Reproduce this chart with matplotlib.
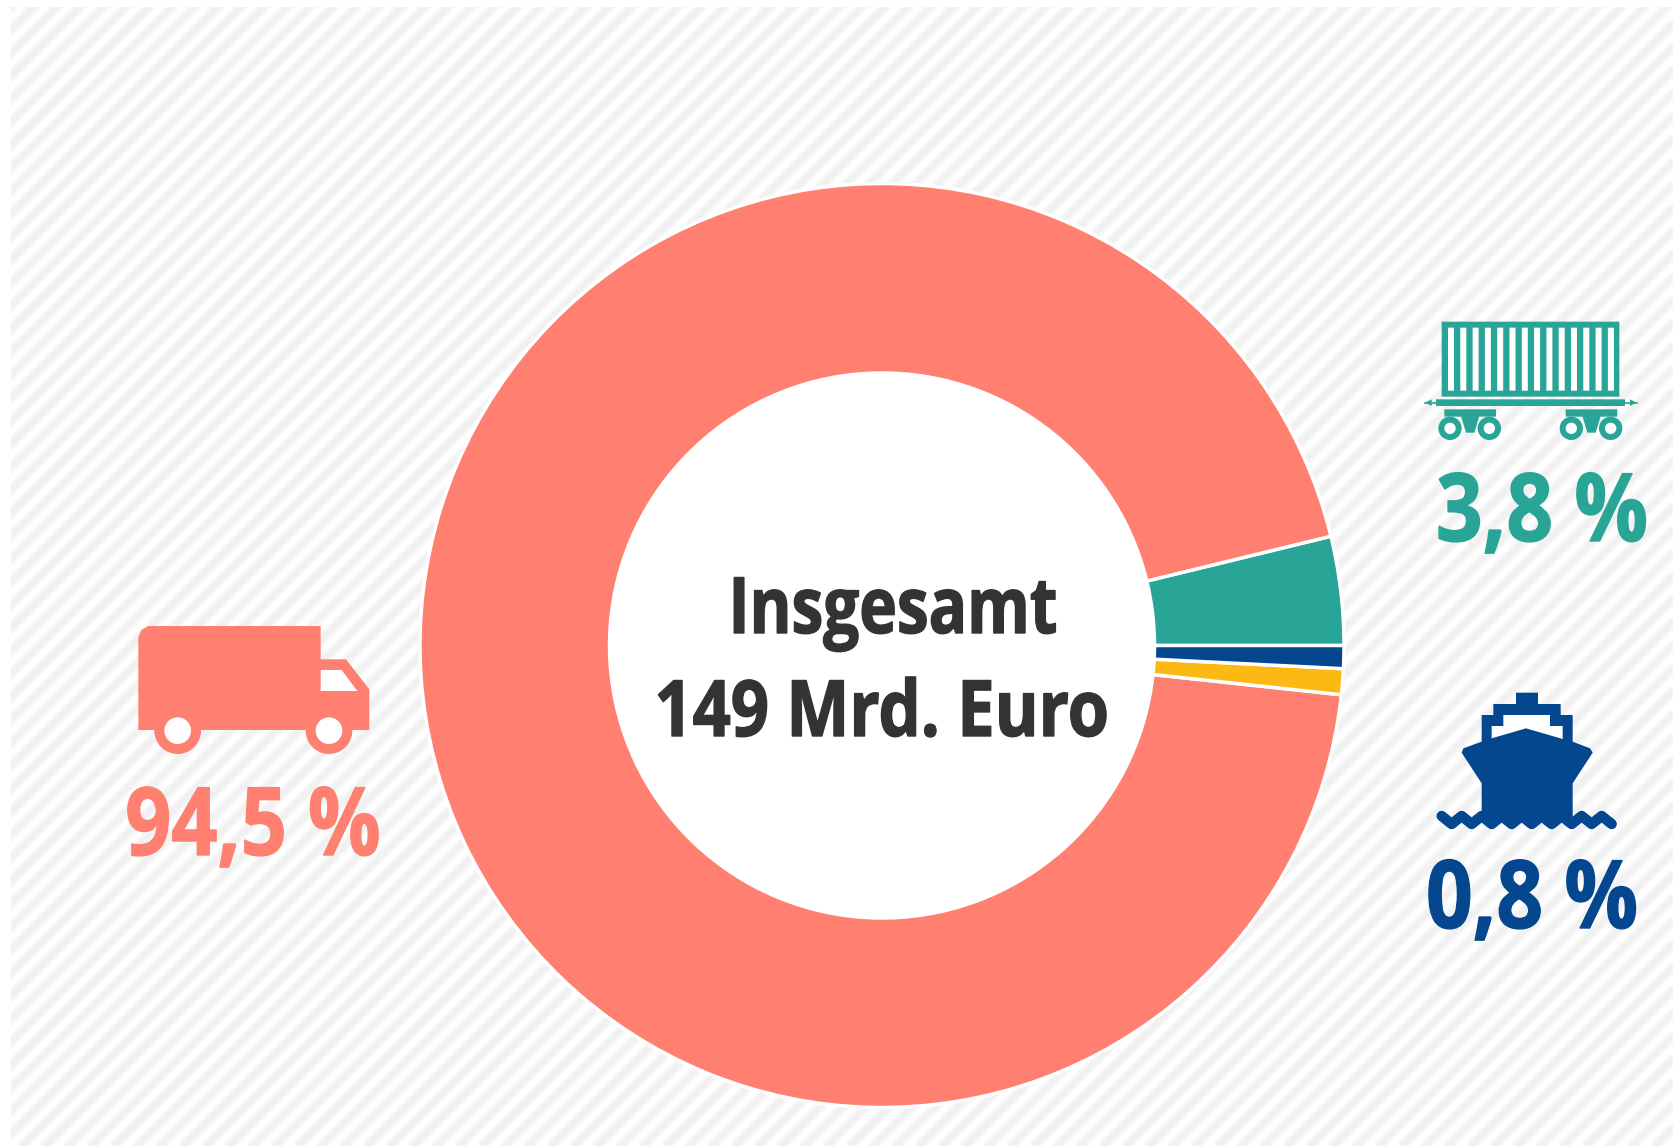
import matplotlib
matplotlib.use("Agg")
import matplotlib.pyplot as plt
import numpy as np
from matplotlib.patches import Rectangle, Polygon, Circle
from matplotlib.patheffects import AbstractPathEffect
from matplotlib.transforms import Affine2D

W, H = 1673, 1146
modes = ["Lkw", "Bahn", "Schiff", "Sonstige"]
shares = [94.5, 3.8, 0.8, 0.9]
colors = ["#FF8070", "#29A598", "#04478F", "#FDB913"]
share_labels = ["94,5 %", "3,8 %", "0,8 %"]
center_lines = ["Insgesamt", "149 Mrd. Euro"]

plt.rcParams["font.family"] = ["Open Sans", "DejaVu Sans"]
plt.rcParams["font.weight"] = "bold"


class Condense(AbstractPathEffect):
    """Narrow the glyphs around the anchor and thicken them a little (condensed bold look)."""

    def __init__(self, factor, anchor_x, stroke):
        super().__init__()
        self.factor, self.anchor_x, self.stroke = factor, anchor_x, stroke

    def draw_path(self, renderer, gc, tpath, affine, rgbFace=None):
        t = affine + Affine2D().translate(-self.anchor_x, 0).scale(self.factor, 1).translate(self.anchor_x, 0)
        gc0 = renderer.new_gc()
        gc0.copy_properties(gc)
        gc0.set_linewidth(self.stroke)
        gc0.set_foreground(rgbFace)
        renderer.draw_path(gc0, tpath, t, rgbFace)
        gc0.restore()


fig = plt.figure(figsize=(W / 100, H / 100), dpi=100, facecolor="white")
ax = fig.add_axes([0, 0, 1, 1])
ax.set_xlim(0, W)
ax.set_ylim(H, 0)
ax.axis("off")

# striped background, soft edged
clip = Rectangle((11, 7), W - 11, H - 7, transform=ax.transData)
period = 23
for c in np.arange(0, W + H + period, period):
    for lw, col in ((8.0, "#F8F8F8"), (4.5, "#F1F1F1")):
        ln, = ax.plot([c, c - H - 10], [-5, H + 5], color=col, lw=lw, zorder=1, solid_capstyle="butt")
        ln.set_clip_path(clip)

# donut
cx, cy, R, r = 882, 645.5, 462, 272.5
pie_ax = fig.add_axes([(cx - R) / W, 1 - (cy + R) / H, 2 * R / W, 2 * R / H])
pie_ax.set_zorder(2)
order = [shares[1], shares[0], shares[3], shares[2]]
order_c = [colors[1], colors[0], colors[3], colors[2]]
pie_ax.pie(order, colors=order_c, startangle=0, counterclock=True, radius=1.0,
           wedgeprops=dict(width=1 - r / R, edgecolor="white", linewidth=2.5))
pie_ax.set_xlim(-1, 1)
pie_ax.set_ylim(-1, 1)
pie_ax.set_aspect("equal")
pie_ax.add_patch(Circle((0, 0), r / R, fc="white", ec="none", zorder=5))

ov = fig.add_axes([0, 0, 1, 1], facecolor="none")
ov.set_zorder(3)
ov.set_xlim(0, W)
ov.set_ylim(H, 0)
ov.axis("off")


def label(x, y, s, color, size, factor):
    t = ov.text(x, y, s, color=color, fontsize=size, fontweight="bold", ha="center", va="baseline")
    t.set_path_effects([Condense(factor, x, 1.0)])


label(893, 633, center_lines[0], "#333333", 56, 0.82)
label(882, 736, center_lines[1], "#333333", 56, 0.86)
label(253, 855, share_labels[0], colors[0], 68, 0.855)
label(1542, 541, share_labels[1], colors[1], 68, 0.866)
label(1532, 928, share_labels[2], colors[2], 68, 0.866)

# truck icon
tx = lambda p: (110 + p[0] / 3, 610 + p[1] / 3)
c = colors[0]
ov.add_patch(Polygon([tx(p) for p in [(85, 360), (85, 80), (95, 60), (115, 48), (632, 48), (632, 148), (708, 148),
                                       (778, 238), (778, 360)]], fc=c, ec="none", snap=False))
ov.add_patch(Polygon([tx(p) for p in [(632, 180), (695, 180), (742, 243), (632, 243)]], fc="white", ec="none", snap=False))
for zx in (203, 657):
    ov.add_patch(Circle(tx((zx, 362)), 70 / 3, fc=c, ec="none"))
    ov.add_patch(Circle(tx((zx, 362)), 40 / 3, fc="white", ec="none"))

# wagon icon
rx = lambda p: (1400 + p[0] / 3, 300 + p[1] / 3)
c = colors[1]
x0, y0 = rx((125, 65))
ov.add_patch(Rectangle((x0, y0), 533 / 3, 225 / 3, fc=c, ec="none", snap=False))
for i in range(14):
    xs, ys = rx((144 + i * 36.9, 83))
    ov.add_patch(Rectangle((xs, ys), 18 / 3, 189 / 3, fc="white", ec="none", snap=False))
xb, yb = rx((108, 298))
ov.add_patch(Rectangle((xb, yb), 567 / 3, 20 / 3, fc=c, ec="none", snap=False))
ov.add_patch(Polygon([rx(p) for p in [(75, 308), (95, 298), (95, 318)]], fc=c, ec="none", snap=False))
ov.add_patch(Polygon([rx(p) for p in [(710, 308), (690, 298), (690, 318)]], fc=c, ec="none", snap=False))
ov.plot(*zip(rx((75, 308)), rx((710, 308))), color=c, lw=1.2)
for zx in (133, 497):
    xb, yb = rx((zx, 328))
    ov.add_patch(Rectangle((xb, yb), 155 / 3, 22 / 3, fc=c, ec="none", snap=False))
    ov.add_patch(Polygon([rx(p) for p in [(zx + 50, 348), (zx + 105, 348), (zx + 90, 398), (zx + 65, 398)]], fc=c, ec="none", snap=False))
    for dx in (17, 135):
        ov.add_patch(Circle(rx((zx + dx, 385)), 35 / 3, fc=c, ec="none"))
        ov.add_patch(Circle(rx((zx + dx, 385)), 17 / 3, fc="white", ec="none"))

# ship icon
sx = lambda p: (1400 + p[0] / 3, 680 + p[1] / 3)
c = colors[2]
hull = [(348, 38), (414, 38), (414, 72), (482, 72), (482, 105), (518, 105), (518, 185), (570, 205), (578, 218), (518, 310),
        (518, 420), (245, 420), (245, 310), (185, 218), (190, 205), (245, 185), (245, 105), (280, 105), (280, 72), (348, 72)]
ov.add_patch(Polygon([sx(p) for p in hull], fc=c, ec="none", snap=False))
ov.add_patch(Polygon([sx(p) for p in [(275, 175), (275, 138), (310, 138), (310, 105), (450, 105), (450, 138),
                                       (488, 138), (488, 177), (378, 145)]], fc="white", ec="none", snap=False))
wave = [sx((125 + 30 * i, 408 if i % 2 == 0 else 432)) for i in range(18)]
ov.plot(*zip(*wave), color=c, lw=7.5, solid_joinstyle="round", solid_capstyle="round")

fig.savefig("out.png", dpi=100, facecolor="white")
